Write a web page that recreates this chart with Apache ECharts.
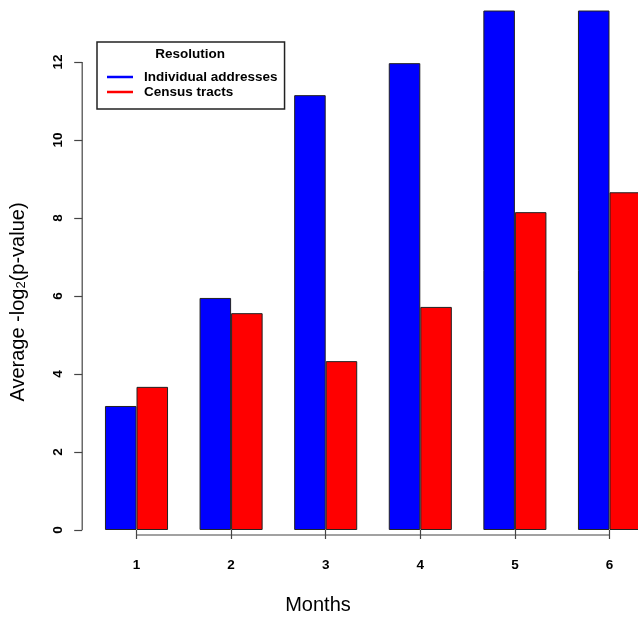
<!DOCTYPE html>
<html>
<head>
<meta charset="utf-8">
<script src="https://cdn.jsdelivr.net/npm/echarts@6/dist/echarts.min.js"></script>
<style>html,body{margin:0;padding:0;background:#fff}#c{width:638px;height:617px}</style>
</head>
<body>
<div id="c"></div>
<script>
const categories = ['1', '2', '3', '4', '5', '6'];
const individualAddresses = [3.18, 5.95, 11.15, 11.97, 13.32, 13.32];
const censusTracts = [3.67, 5.56, 4.33, 5.72, 8.15, 8.66];
const yMin = 0, yMax = 14, yInterval = 2, yAxisLineTop = 12;

const FONT = "'Liberation Sans', Arial, sans-serif";
const AX = '#444';
const chart = echarts.init(document.getElementById('c'), null, {renderer: 'canvas'});
const gridLeft = 89.2, yOffset = 7;

chart.setOption({
  animation: false,
  backgroundColor: '#fff',
  grid: {left: gridLeft, right: -18.8, top: -16, bottom: 87, containLabel: false, outerBoundsMode: 'none'},
  legend: {
    orient: 'vertical', left: 97, top: 42,
    padding: [28, 7, 10, 10], itemGap: 1,
    borderColor: '#222', borderWidth: 1.5,
    icon: 'rect', itemWidth: 26, itemHeight: 2.5,
    itemStyle: {borderWidth: 0},
    textStyle: {fontFamily: FONT, fontWeight: 'bold', fontSize: 13.5, color: '#000', padding: [0, 0, 0, 6]},
    data: ['Individual addresses', 'Census tracts']
  },
  xAxis: {
    type: 'category', data: categories, offset: 5,
    axisLine: {show: false},
    axisTick: {show: true, alignWithLabel: true, length: 9, lineStyle: {color: AX, width: 1.2}},
    axisLabel: {margin: 23, fontFamily: FONT, fontWeight: 'bold', fontSize: 13.5, color: '#000'},
    splitLine: {show: false}
  },
  yAxis: {
    type: 'value', min: yMin, max: yMax, interval: yInterval, offset: yOffset,
    axisLine: {show: false},
    axisTick: {show: true, length: 8, lineStyle: {color: AX, width: 1.2}},
    axisLabel: {rotate: 90, margin: 17, fontFamily: FONT, fontWeight: 'bold', fontSize: 13.5, color: '#000'},
    splitLine: {show: false}
  },
  series: [
    {name: 'Individual addresses', type: 'bar', data: individualAddresses,
     barGap: '0%', barCategoryGap: '33.333%',
     itemStyle: {color: '#0000FF', borderColor: '#222', borderWidth: 1}},
    {name: 'Census tracts', type: 'bar', data: censusTracts,
     barGap: '0%', barCategoryGap: '33.333%',
     itemStyle: {color: '#FF0000', borderColor: '#222', borderWidth: 1}}
  ]
});

const xFirst = chart.convertToPixel({xAxisIndex: 0}, categories[0]);
const xLast = chart.convertToPixel({xAxisIndex: 0}, categories[categories.length - 1]);
const y0 = chart.convertToPixel({yAxisIndex: 0}, yMin);
const yTop = chart.convertToPixel({yAxisIndex: 0}, yAxisLineTop);
const yAxisX = gridLeft - yOffset;

chart.setOption({
  graphic: [
    {type: 'line', shape: {x1: xFirst, y1: y0 + 5, x2: xLast, y2: y0 + 5}, style: {stroke: AX, lineWidth: 1.2}, silent: true},
    {type: 'line', shape: {x1: yAxisX, y1: y0, x2: yAxisX, y2: yTop}, style: {stroke: AX, lineWidth: 1.2}, silent: true},
    {type: 'text', x: 190, y: 54, silent: true,
     style: {text: 'Resolution', font: "bold 13.5px " + FONT, fill: '#000', align: 'center', verticalAlign: 'middle'}},
    {type: 'text', x: 318, y: 605, silent: true,
     style: {text: 'Months', font: "20px " + FONT, fill: '#000', align: 'center', verticalAlign: 'middle'}},
    {type: 'text', x: 18, y: 302, rotation: Math.PI / 2, silent: true,
     style: {
       text: '{a|Average -log}{b|2}{a|(p-value)}',
       align: 'center', verticalAlign: 'middle',
       rich: {
         a: {fontFamily: FONT, fontSize: 20, lineHeight: 20, verticalAlign: 'top', fill: '#000'},
         b: {fontFamily: FONT, fontSize: 13, lineHeight: 13, padding: [9, 0, 0, 0], verticalAlign: 'bottom', fill: '#000'}
       }
     }}
  ]
});
</script>
</body>
</html>
